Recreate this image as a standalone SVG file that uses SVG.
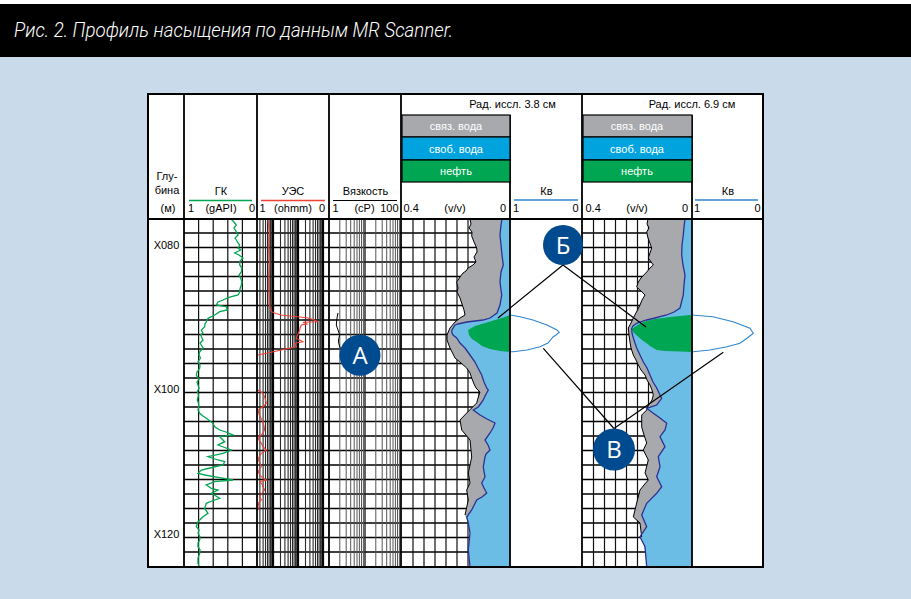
<svg xmlns="http://www.w3.org/2000/svg" width="911" height="599" viewBox="0 0 911 599">
<style>
.t{font-family:"Liberation Sans",Arial,sans-serif;font-size:11px;fill:#000}
.m{text-anchor:middle}
.e{text-anchor:end}
.lg{font-family:"Liberation Sans",Arial,sans-serif;font-size:11px;fill:#fff;text-anchor:middle}
.fr{fill:none;stroke:#000;stroke-width:2}
.dv{stroke:#000;stroke-width:1.8}
.gr{stroke:#000;stroke-width:1.4;fill:none}
.grv{stroke:#111;stroke-width:1.2;fill:none}
.lg1{stroke:#2a2a2a;stroke-width:1.1;fill:none}
.lg2{stroke:#555;stroke-width:1;fill:none}
.box{stroke:#000;stroke-width:1.2}
.bc{fill:#004a8f}
.bt{fill:#fff;font-family:"Open Sans","Liberation Sans",sans-serif;font-size:24px;text-anchor:middle}
.ptr{stroke:#000;stroke-width:1.2;fill:none}
.grey{fill:#a7a9ac}
.blue{fill:#6bbde6}
.oil{fill:#00a651}
.edge{fill:none;stroke:#000;stroke-width:1}
.nav{fill:none;stroke:#2e3192;stroke-width:1.3}
.kv{fill:none;stroke:#2f86d0;stroke-width:1.1}
</style>
<rect x="0" y="0" width="911" height="599" fill="#c9dbea"/>
<rect x="0" y="0" width="911" height="4" fill="#ffffff"/>
<rect x="0" y="4" width="911" height="53" fill="#000"/>
<text x="14" y="37" font-family="Roboto,'Liberation Sans',Arial,sans-serif" font-weight="300" font-size="20" font-style="italic" fill="#fff" textLength="439" lengthAdjust="spacingAndGlyphs">Рис. 2. Профиль насыщения по данным MR Scanner.</text>

<g id="panel">
<rect x="148" y="94" width="615" height="473" fill="#fff"/>
</g>

<g id="grid">
<path class="gr" d="M184 233H510M184 247.5H510M184 262H510M184 276.5H510M184 291H510M184 305.5H510M184 320H510M184 334.5H510M184 349H510M184 363.5H510M184 378H510M184 392.5H510M184 407H510M184 421.5H510M184 436H510M184 450.5H510M184 465H510M184 479.5H510M184 494H510M184 508.5H510M184 523H510M184 537.5H510M184 552H510
M582 233H692M582 247.5H692M582 262H692M582 276.5H692M582 291H692M582 305.5H692M582 320H692M582 334.5H692M582 349H692M582 363.5H692M582 378H692M582 392.5H692M582 407H692M582 421.5H692M582 436H692M582 450.5H692M582 465H692M582 479.5H692M582 494H692M582 508.5H692M582 523H692M582 537.5H692M582 552H692"/>
<path class="grv" d="M198.6 219V567M213.2 219V567M227.8 219V567M242.4 219V567
M413 219V567M424 219V567M435 219V567M446 219V567M457 219V567M468 219V567M479 219V567M490 219V567M501 219V567
M593.5 219V567M604.5 219V567M615.5 219V567M626.5 219V567M637.5 219V567M648.5 219V567M659.5 219V567M670.5 219V567M681.5 219V567"/>
<path class="lg1" d="M259.9 219V567M263.1 219V567M265.5 219V567M267.5 219V567M269.1 219V567M270.6 219V567M271.9 219V567
M280.5 219V567M284.9 219V567M288.1 219V567M290.5 219V567M292.5 219V567M294.1 219V567M295.6 219V567M296.9 219V567
M305.5 219V567M309.9 219V567M313.1 219V567M315.5 219V567M317.5 219V567M319.1 219V567M320.6 219V567M321.9 219V567"/>
<path stroke="#000" stroke-width="2.2" d="M273 219V567M298 219V567M323 219V567"/>
<path class="lg2" d="M339.8 219V567M346.2 219V567M350.7 219V567M354.2 219V567M357 219V567M359.4 219V567M361.5 219V567M363.4 219V567
M375.8 219V567M382.2 219V567M386.7 219V567M390.2 219V567M393 219V567M395.4 219V567M397.5 219V567M399.4 219V567"/>
<path stroke="#222" stroke-width="1.4" d="M365 219V567"/>
</g>

<g id="track-38">
<polygon class="grey" points="470,219 471,224 469,228 472,232 471.7,236 474,242 476.7,248 477,252 474,257 476,262 473,265 468,268 466,271 463,273 460,277 456.7,282 458,288 457,292 460,298 462,304 464,310 465,315 460,318 455,322 450,328 447,335 447,340 450,348 455,358 461,363 466.7,368 470,373 471.7,378 474,384 476,388 480,392 478,398 476.7,403 466.7,413 460,420 461.7,430 470,440 471.7,457 468.3,473 470,483 466.7,490 468.3,500 465,515 468.3,523 470,533 468.3,550 470,567 510,567 510,219"/>
<polygon class="blue" points="502,219 501,225 500,235 501,245 502,255 503.3,265 501,272 500,282 501,290 501.7,295 500,305 497,313 490,318 483,320 467,322 458,324 455,325 452,330 451.7,332 453,335 456.7,338 460,343 465,348 470,355 475,362 478,368 481.7,375 484,382 486.7,388 488.3,390 485,396 483.3,400 478.3,407 473.3,410 480,415 487,419 495,423 493,428 490,433 485,440 488,445 490,450 486,454 485,457 483.3,467 485,477 481.7,483 484,488 486.7,493 482,497 476.7,500 471.7,510 466.7,517 468.3,523 470,533 468.3,550 470,567 510,567 510,219"/>
<polygon class="oil" points="468,330 475,326 485,323 495,320 505,317 510,315 510,352 500,351 490,349 482,346 476.7,342 472,339 469,335"/>
<polyline class="edge" points="470,219 471,224 469,228 472,232 471.7,236 474,242 476.7,248 477,252 474,257 476,262 473,265 468,268 466,271 463,273 460,277 456.7,282 458,288 457,292 460,298 462,304 464,310 465,315 460,318 455,322 450,328 447,335 447,340 450,348 455,358 461,363 466.7,368 470,373 471.7,378 474,384 476,388 480,392 478,398 476.7,403 466.7,413 460,420 461.7,430 470,440 471.7,457 468.3,473 470,483 466.7,490 468.3,500 465,515"/>
<polyline class="nav" points="502,219 501,225 500,235 501,245 502,255 503.3,265 501,272 500,282 501,290 501.7,295 500,305 497,313 490,318 483,320 467,322 458,324 455,325 452,330 451.7,332 453,335 456.7,338 460,343 465,348 470,355 475,362 478,368 481.7,375 484,382 486.7,388 488.3,390 485,396 483.3,400 478.3,407 473.3,410 480,415 487,419 495,423 493,428 490,433 485,440 488,445 490,450 486,454 485,457 483.3,467 485,477 481.7,483 484,488 486.7,493 482,497 476.7,500 471.7,510 466.7,517 468.3,523 470,533 468.3,550 470,567"/>
<polyline class="kv" points="510,315 520,316.7 533,320 547,325 553,328 557,330 559.3,332.5 556,335 553,337 548,343 540,346.7 527,350 513,351.7 510,351.7"/>
</g>

<g id="track-69">
<polygon class="grey" points="648,219 647,224 649,228 646.7,232 648,238 651.7,248 650,253 648.3,258 653.3,265 650,268 646.7,272 641,278 638.3,282 636.7,287 641,291 645,295 642,300 640,305 637,311 633.3,318 631,323 628.3,328 629,335 630,342 631,348 633.3,355 636,360 638.3,365 641,370 645,375 647,380 650,385 652,390 653.3,395 652,400 648,406 646.7,410 641.7,415 641.7,427 644,435 646.7,443 643.3,450 648.3,460 645,473 648.3,480 644,485 640,490 636.7,503 633.3,517 640,523 641.7,537 645,550 646.7,567 692,567 692,219"/>
<polygon class="blue" points="685,219 684,227 683.3,235 682,245 681.7,255 683,265 685,275 684,285 683.3,295 680,308 674,312 666.7,315 655,318 646.7,320 640,322 636.7,323.3 633,326 631.7,328.3 632,333 633.3,338 635,343 636.7,348 640,355 643.3,362 647,368 650,375 653,382 656.7,388 660,395 661.7,398.3 656.7,405 646.7,408.3 653.3,413.3 660,418 666.7,423.3 665,430 660,436.7 665,446.7 658.3,456.7 660,466.7 656.7,476.7 661.7,486.7 656.7,493.3 646.7,503.3 641.7,515 646.7,526.7 640,536.7 645,546.7 646.7,567 692,567 692,219"/>
<polygon class="oil" points="631.7,329 636,326 643,322 655,319 670,317 690,315 692,315 692,352 680,351.5 665,351 656.7,350 650,346 646.7,343.3 642,340 638.3,336.7 634,333"/>
<polyline class="edge" points="648,219 647,224 649,228 646.7,232 648,238 651.7,248 650,253 648.3,258 653.3,265 650,268 646.7,272 641,278 638.3,282 636.7,287 641,291 645,295 642,300 640,305 637,311 633.3,318 631,323 628.3,328 629,335 630,342 631,348 633.3,355 636,360 638.3,365 641,370 645,375 647,380 650,385 652,390 653.3,395 652,400 648,406 646.7,410 641.7,415 641.7,427 644,435 646.7,443 643.3,450 648.3,460 645,473 648.3,480 644,485 640,490 636.7,503 633.3,517 640,523 641.7,537"/>
<polyline class="nav" points="685,219 684,227 683.3,235 682,245 681.7,255 683,265 685,275 684,285 683.3,295 680,308 674,312 666.7,315 655,318 646.7,320 640,322 636.7,323.3 633,326 631.7,328.3 632,333 633.3,338 635,343 636.7,348 640,355 643.3,362 647,368 650,375 653,382 656.7,388 660,395 661.7,398.3 656.7,405 646.7,408.3 653.3,413.3 660,418 666.7,423.3 665,430 660,436.7 665,446.7 658.3,456.7 660,466.7 656.7,476.7 661.7,486.7 656.7,493.3 646.7,503.3 641.7,515 646.7,526.7 640,536.7 645,546.7 646.7,567"/>
<polyline class="kv" points="692,315 713,316.7 733,321.7 750,328.3 753.3,333.3 747,338.3 740,343.3 727,346.7 710,350 693,351.7 692,351.7"/>
</g>

<g id="curves">
<polyline fill="none" stroke="#00a651" stroke-width="1.3" points="231,219 234,222 236.3,225 234,228 235.3,230 237,233 238,235 235,238 236.3,240 238,243 239.7,245 238,248 240.7,250 234.7,253 239,255 243,258 240,261 239.7,265 242,268 241.3,272 239,275 240.7,278 242,282 241.3,285 240,289 239.7,292 238,295 228,297.7 223,300 218,302 216.3,305 226.3,306.7 227.3,310 219.7,311.7 214.7,315 208,318.3 206.3,321.7 205,324 204.7,326.7 201.3,330 203,333 200.7,335 202,338 203,340 200,343 201.3,345 203,348 199.7,351.7 199,355 200.5,358 198,361.7 200,365 199.7,368.3 197,372 196.3,375 199,379 197,382 198,385 199,388 197.3,391.7 198.5,395 197.3,400 198.5,403 198.7,406.7 198,410 199.7,413.3 203,416 206.3,418.3 210,421 213,423.3 214.7,426.7 219.7,430 226,432 233,435 219.7,436.7 222,439 224.7,441.7 218,445 226,448 231.3,450 223,453.3 208,456.7 212,458 218,460 224.7,461.7 223,465 210,468 201.3,470 198,473.3 205,475 218,477.3 233,480 214.7,481.7 206.3,485 211.3,488.3 218,490 211.3,493.3 216,496 219.7,498.3 212,501 206.3,503.3 204.7,508.3 208,513.3 203,516.7 198,521.7 196.3,526.7 199,530 198,533.3 200,537 199.7,540 198,543 198,546.7 200,550 199.7,553.3 198,558 198,563.3 199,566"/>
<polyline fill="none" stroke="#ef4136" stroke-width="1.1" points="268,219 268.5,225 269.7,231.7 269,240 268.7,248.3 269.5,256 269.7,265 269,273 268.7,281.7 269,290 269.7,301.7 270,308 271.3,311.7 276,313.5 281.3,315 290,316 298,316.7 308,318 313,319.5 318,321.7 310,322 303,322.3 307,324 301.3,325 300,328 299.7,330 298,334 296.3,338.3 303,341.7 294.7,343.3 296.3,346.7 290,348 281.3,350 270,352.5 258,355"/>
<polyline fill="none" stroke="#ef4136" stroke-width="1.1" points="258,390 261,392 263,393.3 265,398 266.3,403.3 263,406.7 258,410 259,414 261,418 263,421.7 264,426 264.7,430 261.3,435 258,436.7 259,440 261.3,443.3 263,446.7 266.3,450 261.3,453.3 259,457 258,460 260,463 261.3,466.7 258,471.7 260,475 263,478.3 266.3,480 259.7,481.7 262,484 263,486.7 264.7,490 262,493 259.7,496.7 261.3,500 258,503.3 259,506 258.7,510"/>
<polyline fill="none" stroke="#000" stroke-width="1" points="338,313 337,318 336.3,325 338,330 339.7,335 338.5,340 338.7,343.3 340.3,348.3"/>
</g>

<g id="frame">
<path class="dv" d="M184 94V567M257 94V567M329 94V567M401 94V567M510 115V567M582 94V567M692 115V567"/>
<path stroke="#000" stroke-width="2.2" d="M148 219H763"/>
<rect class="fr" x="148" y="94" width="615" height="473"/>
</g>

<g id="header">
<text class="t m" x="167" y="180">Глу-</text>
<text class="t m" x="167" y="194">бина</text>
<text class="t m" x="168" y="212">(м)</text>

<text class="t m" x="221" y="195">ГК</text>
<path stroke="#00a651" stroke-width="1.5" d="M189 200.5H252"/>
<text class="t" x="188" y="212">1</text>
<text class="t m" x="221" y="212">(gAPI)</text>
<text class="t e" x="255" y="212">0</text>

<text class="t m" x="293" y="195">УЭС</text>
<path stroke="#ef4136" stroke-width="1.5" d="M261 200.5H325"/>
<text class="t" x="259.5" y="212">1</text>
<text class="t m" x="293" y="212">(ohmm)</text>
<text class="t e" x="325" y="212">0</text>

<text class="t m" x="365.5" y="195">Вязкость</text>
<path stroke="#000" stroke-width="1.2" d="M333 200.5H397"/>
<text class="t" x="332.5" y="212">1</text>
<text class="t m" x="364.5" y="212">(cP)</text>
<text class="t e" x="398.5" y="212">100</text>

<text class="t m" x="512.5" y="108">Рад. иссл. 3.8 см</text>
<rect class="box" x="402" y="115" width="108" height="22" fill="#a7a9ac"/>
<rect class="box" x="402" y="137" width="108" height="23" fill="#00a3dd"/>
<rect class="box" x="402" y="160" width="108" height="22" fill="#00a651"/>
<text class="lg" x="456" y="130" fill="#e8e8e8">связ. вода</text>
<text class="lg" x="456" y="153">своб. вода</text>
<text class="lg" x="456" y="175">нефть</text>
<text class="t m" x="546.5" y="195">Кв</text>
<path stroke="#2f86d0" stroke-width="1.5" d="M514 200H578"/>
<text class="t" x="403.5" y="212">0.4</text>
<text class="t m" x="455" y="212">(v/v)</text>
<text class="t e" x="506" y="212">0</text>
<text class="t" x="513" y="212">1</text>
<text class="t e" x="578.5" y="212">0</text>

<text class="t m" x="692" y="108">Рад. иссл. 6.9 см</text>
<rect class="box" x="583" y="115" width="109" height="22" fill="#a7a9ac"/>
<rect class="box" x="583" y="137" width="109" height="23" fill="#00a3dd"/>
<rect class="box" x="583" y="160" width="109" height="22" fill="#00a651"/>
<text class="lg" x="637" y="130" fill="#e8e8e8">связ. вода</text>
<text class="lg" x="637" y="153">своб. вода</text>
<text class="lg" x="637" y="175">нефть</text>
<text class="t m" x="728" y="195">Кв</text>
<path stroke="#2f86d0" stroke-width="1.5" d="M695 200H758"/>
<text class="t" x="585.5" y="212">0.4</text>
<text class="t m" x="637" y="212">(v/v)</text>
<text class="t e" x="688" y="212">0</text>
<text class="t" x="694" y="212">1</text>
<text class="t e" x="760.5" y="212">0</text>
</g>

<g id="depth">
<text class="t m" x="166.5" y="248.5">X080</text>
<text class="t m" x="166.5" y="393">X100</text>
<text class="t m" x="166.5" y="537.5">X120</text>
</g>

<g id="connectors">
<path class="ptr" d="M563 265L498 318M563 265L646 327"/>
<path class="ptr" d="M614 428.5L543.3 348.3M614 428.5L723.3 352.3"/>
</g>

<g id="badge-A"><circle class="bc" cx="360" cy="355.3" r="20.5"/><text class="bt" x="360" y="364">A</text></g>
<g id="badge-B6"><circle class="bc" cx="563" cy="245" r="20"/><text class="bt" x="563" y="253.5">Б</text></g>
<g id="badge-V"><circle class="bc" cx="614" cy="449.5" r="21"/><text class="bt" x="614" y="458">В</text></g>
</svg>
